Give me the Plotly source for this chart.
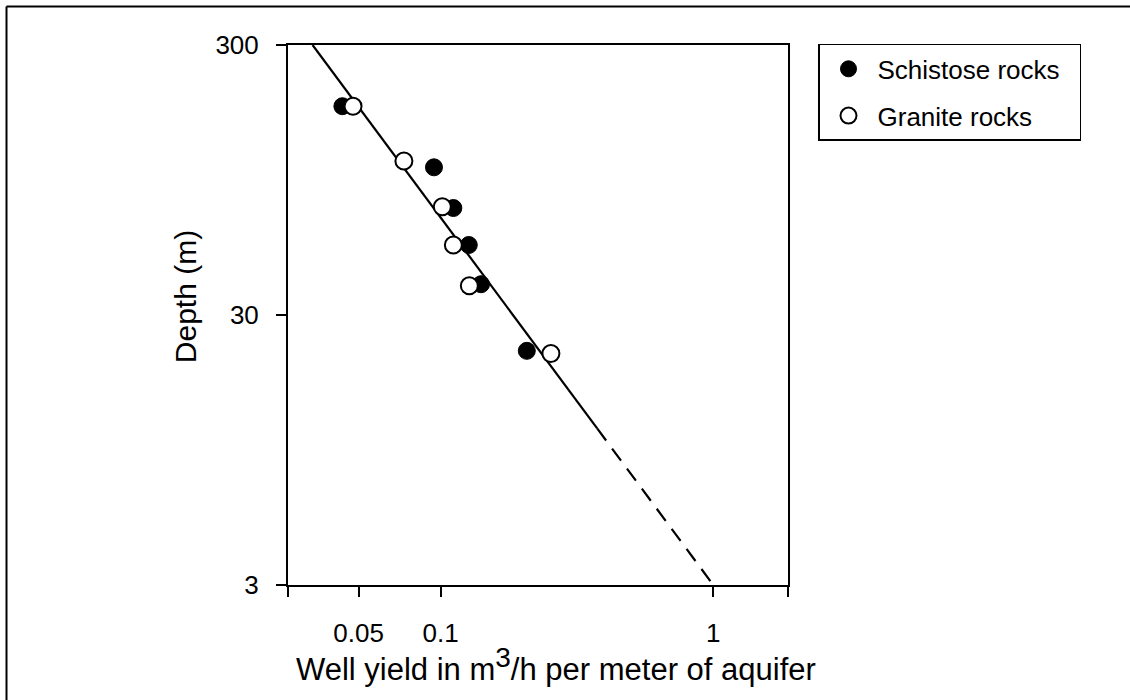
import plotly.graph_objects as go

# ---- data ----
schist_x = [0.0436, 0.0945, 0.1113, 0.1268, 0.1406, 0.207]
schist_y = [178, 105.7, 74.7, 54.5, 39.0, 22.1]

granite_x = [0.0477, 0.0733, 0.1014, 0.1113, 0.1274, 0.2537]
granite_y = [178, 111.6, 75.5, 54.5, 38.5, 21.6]

fit_x = [0.0339, 0.375]
fit_y = [300, 11.4]
ext_x = [0.375, 1.0]
ext_y = [11.4, 3.0]

x_tickvals = [0.02756, 0.05, 0.1, 1, 1.878]
x_ticktext = ["", "0.05", "0.1", "1", ""]
y_tickvals = [3, 30, 300]
y_ticktext = ["3", "30", "300"]

FONT = "Liberation Sans, Arial, sans-serif"

fig = go.Figure()
fig.add_trace(go.Scatter(x=fit_x, y=fit_y, mode="lines",
                         line=dict(color="black", width=2.2), showlegend=False, hoverinfo="skip"))
fig.add_trace(go.Scatter(x=ext_x, y=ext_y, mode="lines",
                         line=dict(color="black", width=2.2, dash="15px,10px"), showlegend=False, hoverinfo="skip"))
fig.add_trace(go.Scatter(x=schist_x, y=schist_y, mode="markers",
                         name="Schistose rocks\u00a0\u00a0", legendgroup="s",
                         marker=dict(symbol="circle", size=17, color="black",
                                     line=dict(color="black", width=1))))
fig.add_trace(go.Scatter(x=granite_x, y=granite_y, mode="markers",
                         name="Granite rocks", legendgroup="g",
                         marker=dict(symbol="circle", size=17, color="white",
                                     line=dict(color="black", width=2))))

fig.update_xaxes(type="log", range=[-1.56, 0.274], tickvals=x_tickvals, ticktext=x_ticktext,
                 ticks="outside", ticklen=10, tickwidth=2, tickcolor="black",
                 showline=True, linewidth=2, linecolor="black", mirror=True,
                 showgrid=False, zeroline=False, ticklabelstandoff=14,
                 tickfont=dict(size=26, color="black", family=FONT))
fig.update_yaxes(type="log", range=[0.47712, 2.47712], tickvals=y_tickvals, ticktext=y_ticktext,
                 ticks="outside", ticklen=10, tickwidth=2, tickcolor="black",
                 showline=True, linewidth=2, linecolor="black", mirror=True,
                 showgrid=False, zeroline=False, ticklabelstandoff=12,
                 tickfont=dict(size=26, color="black", family=FONT))

fig.update_layout(
    width=1130, height=700,
    margin=dict(l=288, r=342, t=45, b=115),
    paper_bgcolor="white", plot_bgcolor="white",
    font=dict(family=FONT, size=25, color="black"),
    legend=dict(x=1.06, y=1.002, xanchor="left", yanchor="top",
                bordercolor="black", borderwidth=1.5, bgcolor="white",
                font=dict(size=26, family=FONT, color="black"),
                itemwidth=48, tracegroupgap=10),
    annotations=[
        dict(text="Well yield in m<sup><span style=\"font-size:28px\">3</span></sup>/h per meter of aquifer",
             xref="paper", yref="paper",
             x=0.536, y=-0.148, xanchor="center", yanchor="middle", showarrow=False,
             font=dict(size=31, family=FONT, color="black")),
        dict(text="Depth (m)", xref="paper", yref="paper", textangle=-90,
             x=-0.206, y=0.533, xanchor="center", yanchor="middle", showarrow=False,
             font=dict(size=30, family=FONT, color="black")),
    ],
    shapes=[
        dict(type="line", xref="paper", yref="paper", x0=(6.5 - 288) / 500, x1=(1130 - 288) / 500,
             y0=1 + (45 - 6.5) / 540, y1=1 + (45 - 6.5) / 540, line=dict(color="black", width=2)),
        dict(type="line", xref="paper", yref="paper", x0=(6.5 - 288) / 500, x1=(6.5 - 288) / 500,
             y0=1 + (45 - 6.5) / 540, y1=(585 - 700) / 540, line=dict(color="black", width=2)),
    ],
)

fig.write_html("out.html", config={"displayModeBar": False},
               post_script="document.body.style.margin='0';document.body.style.overflow='hidden';")
